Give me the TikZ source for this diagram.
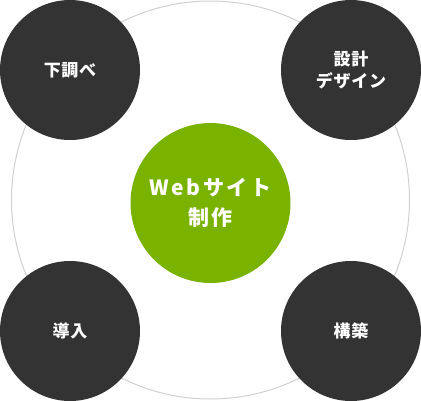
\documentclass[tikz,border=0pt]{standalone}
\usepackage{fontspec}
\newfontfamily\jpfont{Noto Sans CJK JP}
\definecolor{stagegray}{RGB}{51,51,51}
\definecolor{coregreen}{RGB}{122,178,0}
\definecolor{ringgray}{RGB}{208,208,208}

\begin{document}
\begin{tikzpicture}[x=1pt,y=-1pt,
		ring/.style={circle,draw=ringgray,line width=1pt,minimum size=398pt,inner sep=0pt},
		stage/.style={circle,fill=stagegray,text=white,minimum size=140pt,inner sep=0pt,align=center,
			font=\jpfont\bfseries\addfontfeatures{LetterSpace=4}\fontsize{17}{22}\selectfont},
		core/.style={circle,fill=coregreen,text=white,minimum size=160pt,inner sep=0pt,align=center,
			font=\jpfont\bfseries\addfontfeatures{LetterSpace=12}\fontsize{21}{30}\selectfont}]
			\useasboundingbox (0,0) rectangle (421,400);
			\node [ring] (cycle) at (210.5,200) {};
			\node [core] (web) at (210.5,203) {Webサイト\\制作};
			\node [stage] (survey) at (70,70) {下調べ};
			\node [stage] (design) at (351,70) {設計\\デザイン};
			\node [stage] (intro) at (70,331) {導入};
			\node [stage] (build) at (351,331) {構築};
		\end{tikzpicture}
\end{document}
